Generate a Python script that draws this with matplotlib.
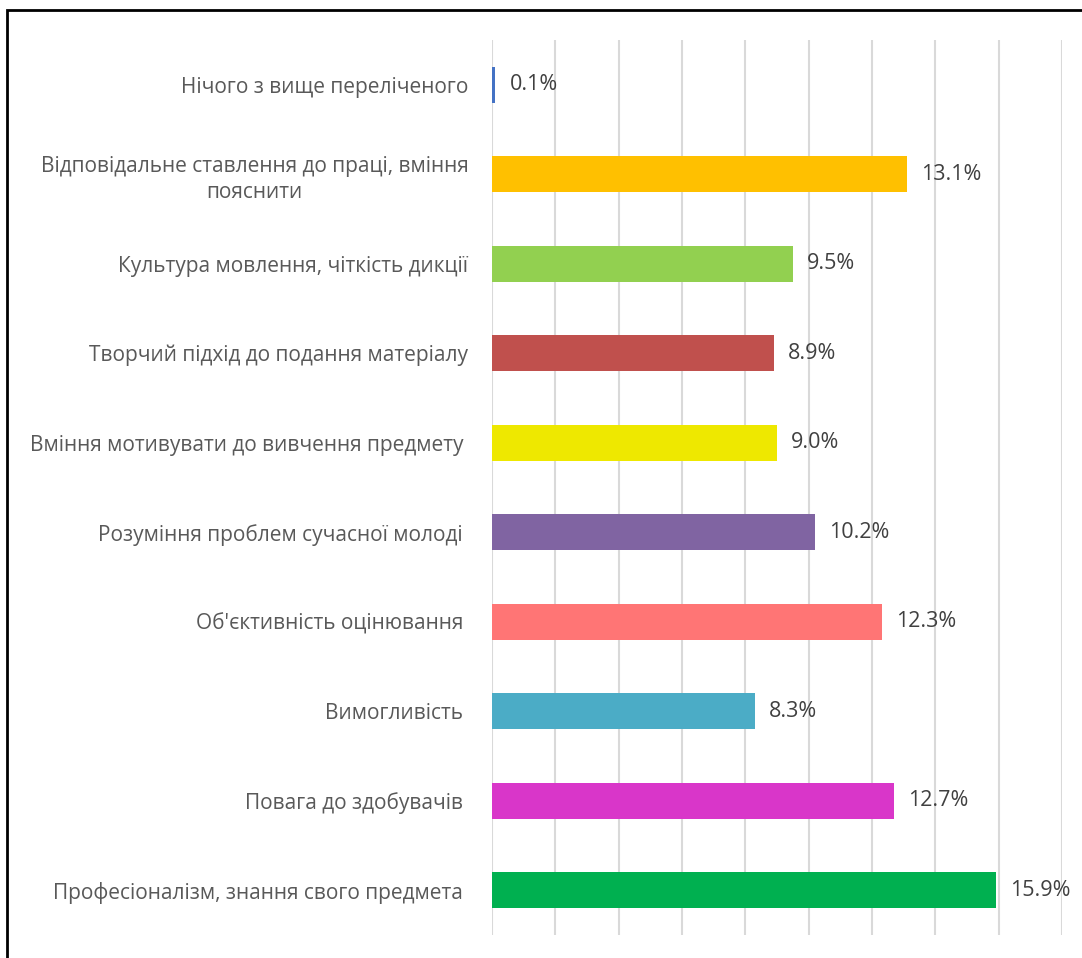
import matplotlib
matplotlib.use("Agg")
import matplotlib.pyplot as plt
from matplotlib.patches import Rectangle

# ── Data (bottom to top) ────────────────────────────────────────────────────
categories = [
    "Професіоналізм, знання свого предмета ",
    "Повага до здобувачів ",
    "Вимогливість ",
    "Об'єктивність оцінювання ",
    "Розуміння проблем сучасної молоді ",
    "Вміння мотивувати до вивчення предмету ",
    "Творчий підхід до подання матеріалу",
    "Культура мовлення, чіткість дикції",
    "Відповідальне ставлення до праці, вміння\nпояснити",
    "Нічого з вище переліченого",
]
values = [15.9, 12.7, 8.3, 12.3, 10.2, 9.0, 8.9, 9.5, 13.1, 0.1]
colors = [
    "#00B050", "#D936C9", "#4BACC6", "#FF7575", "#8064A2",
    "#EEE800", "#C0504D", "#92D050", "#FFC000", "#4472C4",
]

plt.rcParams["font.family"] = ["Open Sans", "DejaVu Sans"]

fig = plt.figure(figsize=(10.82, 9.58), dpi=100)
ax = fig.add_axes([492 / 1082, 1 - 935 / 958, 570 / 1082, 895 / 958])

y = range(len(categories))
ax.barh(y, values, height=0.4, color=colors, zorder=3)

for yi, v in zip(y, values):
    ax.text(v + 0.45, yi, f"{v:.1f}%", va="center", ha="left",
            fontsize=15.5, color="#404040", zorder=4, clip_on=False)

ax.set_xlim(0, 18)
ax.set_ylim(-0.5, len(categories) - 0.5)
ax.set_xticks(range(0, 19, 2))
ax.xaxis.grid(True, color="#d9d9d9", linewidth=1.5, zorder=0)
ax.tick_params(axis="x", length=0, labelbottom=False)
ax.tick_params(axis="y", length=0, pad=17)
ax.set_yticks(list(y))
ax.set_yticklabels(categories, fontsize=15, color="#595959",
                   multialignment="center", linespacing=1.3)
for s in ax.spines.values():
    s.set_visible(False)

# outer chart frame (cropped at right/bottom like the source)
fig.patches.append(Rectangle((7 / 1082, -0.1), 1.2, 1.1 - 10 / 958,
                             transform=fig.transFigure, fill=False,
                             edgecolor="black", linewidth=2))

fig.savefig("out.png", dpi=100)
